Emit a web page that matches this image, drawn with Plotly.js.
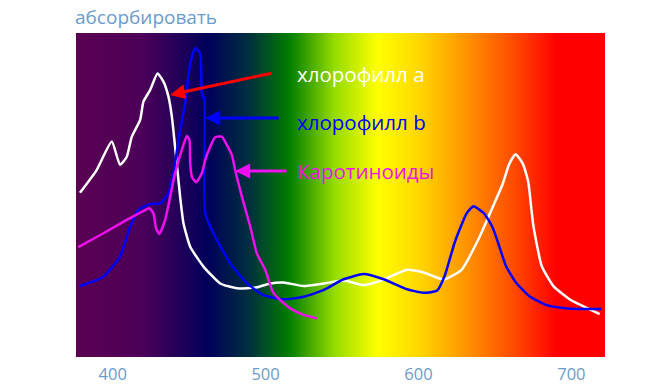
<!DOCTYPE html>
<html>
<head>
<meta charset="utf-8">
<script src="https://cdn.plot.ly/plotly-3.0.1.min.js"></script>
<style>html,body{margin:0;padding:0;background:#fff;}#chart{width:648px;height:390px;}</style>
</head>
<body>
<div id="chart"></div>
<script>
// Wavelength (nm) and absorbance (relative, 0-100)
const chlA_nm = [378.6,389.5,399.4,404.8,409.2,412.5,417.9,420.1,424.5,429.3,433.2,436.5,438.7,440.8,444.1,446.3,450.7,459.4,470.3,481.2,494.3,503,511.8,524.9,538,551,564.1,575.1,592.6,603.4,616.5,628.3,639.4,648.3,655,659.4,663.5,668.3,671.7,675.1,680.6,688.4,699.6,710.7,718.5];
const chlA_abs = [50.7,57.7,66.5,59.3,61.8,68,73.1,78.8,82.4,87.5,85,80.3,74.2,64.9,49.5,41.3,34,27.9,22.7,21.2,21.5,22.7,23,21.9,22.7,23.6,22.2,23.5,26.9,26.1,23.9,27,36.5,46,53.3,59.6,62.6,59.6,54.3,40.7,28.1,21.8,17.6,15,13.2];

const chlB_nm = [378.6,393.9,404.8,411.4,416.8,424.5,431,436.5,439.7,444.1,447.4,450.7,453.9,457.2,458.3,460,460.5,465.9,476.9,487.8,498.7,511.8,524.9,538,551,564.1,577.2,592.6,603.4,612.2,617.1,623.8,631.6,636,642.7,648.3,652.7,657.2,663.9,672.8,684,697.3,719.6];
const chlB_abs = [21.9,24.8,31,40.2,45.4,47.2,47.4,50.5,56.7,70.1,78.3,90.6,95.3,93.7,81.4,79.3,44.3,38.2,28.9,22.7,19.1,17.8,18.6,20.7,24,25.6,24,20.9,19.8,20.5,25,35.5,44.4,46.5,44.4,40.2,34.4,28.1,22.9,18.7,16,15,14.8];

const car_nm = [377.5,393.9,409.2,419,424,426.6,428.4,430.5,434.3,437.6,440.8,445.2,448.5,450.2,450.7,451.8,454.6,458.3,460.5,463.8,467,471.4,474.7,478,480.1,484.5,490,494.3,499.8,505.2,516.1,524.9,533.6];
const car_abs = [33.9,38.2,42.3,44.8,45.9,44.4,39.7,38,42.3,49.5,56.7,63.9,68.2,67,59.8,55.6,53.9,56.7,60.8,64.9,67.8,68,65.4,62.3,57.7,49.5,40.2,32,26.9,19.7,15,13,11.9];

// Background spectrum stops
const specNm = [376,420,462,490,515,545,573,600,623,660,690,722];
const specColor = ['rgb(90,0,82)','rgb(75,0,88)','rgb(0,0,90)','rgb(0,50,60)','rgb(0,125,0)','rgb(150,220,0)','rgb(255,255,0)','rgb(255,215,0)','rgb(255,165,0)','rgb(255,80,0)','rgb(255,0,0)','rgb(255,0,0)'];

const tickVals = [400,500,600,700];
const tickText = ['400','500','600','700'];

const labels = ['хлорофилл a','хлорофилл b','Каротиноиды'];
const labelColors = ['#ffffff','#0000ff','#ee11ee'];

const xMin = specNm[0], xMax = specNm[specNm.length-1];
const cs = specNm.map((v,i)=>[(v-xMin)/(xMax-xMin), specColor[i]]);
const FONT = 'Open Sans, Noto Sans, sans-serif';

const bg = {
  type:'heatmap', x:[xMin,xMax], y:[0,100], z:[[xMin,xMax],[xMin,xMax]],
  colorscale:cs, zmin:xMin, zmax:xMax, zsmooth:'best', showscale:false, hoverinfo:'skip'
};
function line(x,y,c){return {type:'scatter',mode:'lines',x:x,y:y,line:{color:c,width:2.5,shape:'spline',smoothing:0.5},hoverinfo:'skip'};}

const data = [bg, line(chlA_nm,chlA_abs,'#ffffff'), line(chlB_nm,chlB_abs,'#0000ff'), line(car_nm,car_abs,'#ee11ee')];

function arrow(x,y,ax,ay,c){return {x:x,y:y,ax:ax,ay:ay,xref:'x',yref:'y',axref:'x',ayref:'y',text:'',showarrow:true,arrowhead:2,arrowsize:1,arrowwidth:3,arrowcolor:c};}
const labelY = [87.3,72.5,57.4];
const annotations = [
  arrow(437.6,80.9,505,87.7,'#ff0000'),
  arrow(460.5,73.8,509.6,73.8,'#0000ff'),
  arrow(480.1,57.4,514.8,57.4,'#ee11ee')
];
labels.forEach((t,i)=>annotations.push({x:519.5,y:labelY[i],xref:'x',yref:'y',text:t,showarrow:false,xanchor:'left',yanchor:'middle',font:{family:FONT,size:20.5,color:labelColors[i]}}));

const layout = {
  width:648, height:390,
  margin:{l:76,r:43,t:33,b:33},
  paper_bgcolor:'#ffffff', plot_bgcolor:'#ffffff',
  showlegend:false,
  title:{text:'абсорбировать', x:75/648, xanchor:'left', y:1-17/390, yanchor:'middle', font:{family:FONT, size:19, color:'#6a9bcc'}},
  xaxis:{range:[xMin,xMax], tickvals:tickVals, ticktext:tickText, showgrid:false, zeroline:false, showline:false, ticks:'', ticklabelstandoff:5, tickfont:{family:FONT, size:16.5, color:'#6a9bcc'}},
  yaxis:{range:[0,100], showticklabels:false, showgrid:false, zeroline:false, showline:false, ticks:''},
  annotations:annotations
};
Plotly.newPlot('chart', data, layout, {displayModeBar:false, staticPlot:true});
</script>
</body>
</html>
